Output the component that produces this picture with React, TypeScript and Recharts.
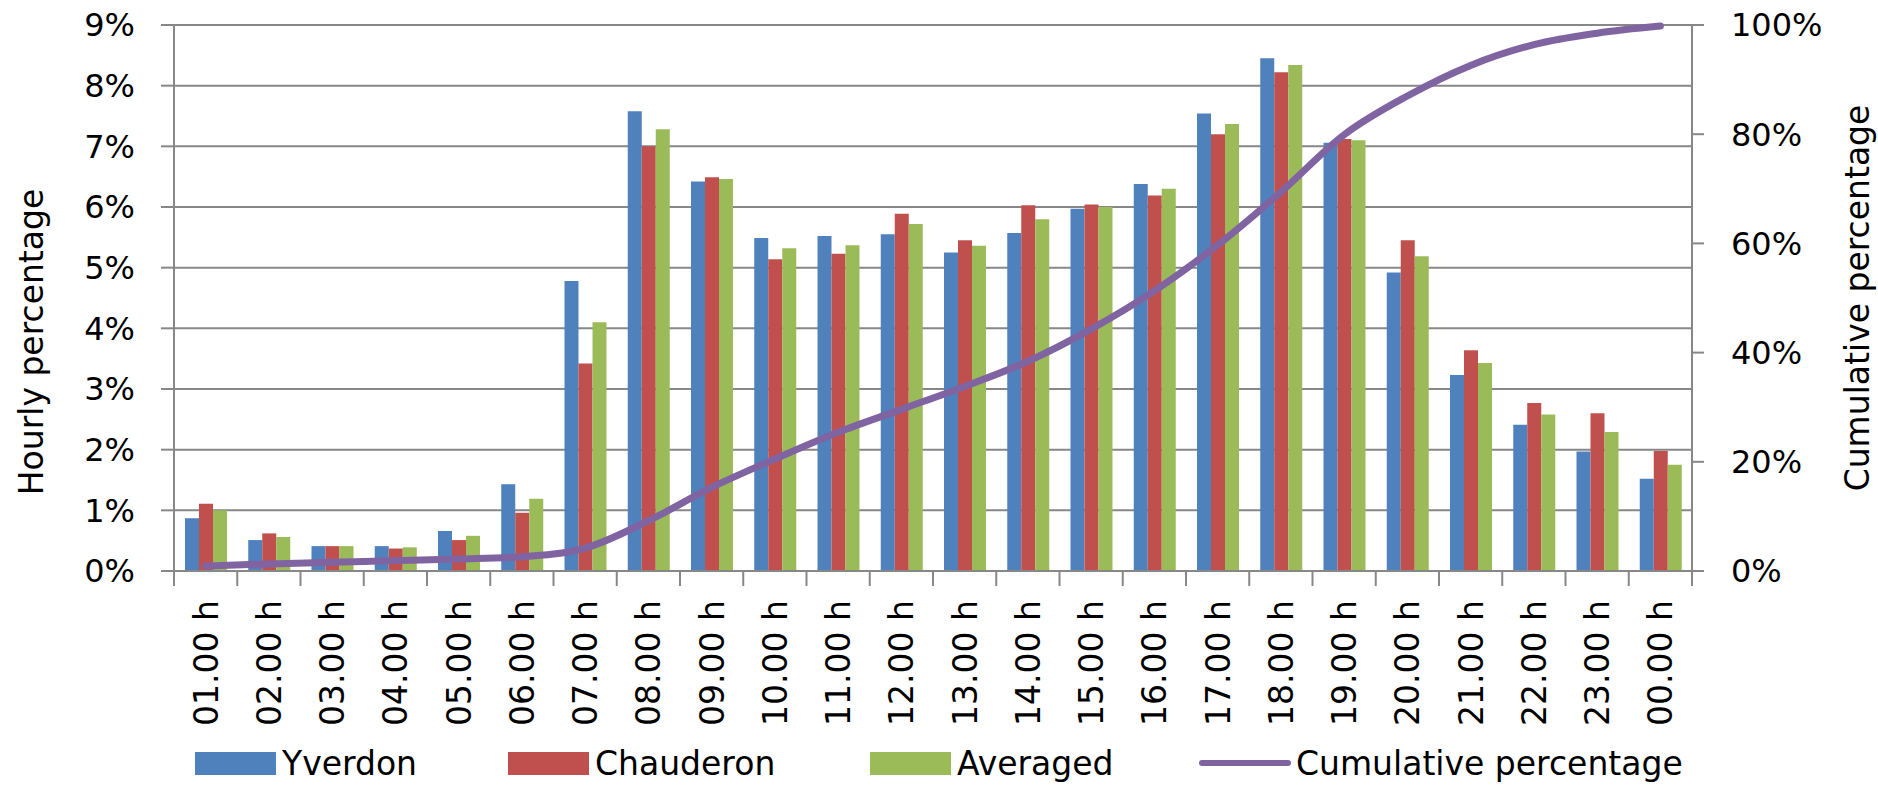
import {
  Bar,
  CartesianGrid,
  ComposedChart,
  Legend,
  Line,
  XAxis,
  YAxis,
} from 'recharts'

const hours = [
  '01.00 h', '02.00 h', '03.00 h', '04.00 h', '05.00 h', '06.00 h',
  '07.00 h', '08.00 h', '09.00 h', '10.00 h', '11.00 h', '12.00 h',
  '13.00 h', '14.00 h', '15.00 h', '16.00 h', '17.00 h', '18.00 h',
  '19.00 h', '20.00 h', '21.00 h', '22.00 h', '23.00 h', '00.00 h',
]

// hourly share of the daily traffic, in %
const yverdon = [
  0.87, 0.51, 0.41, 0.41, 0.66, 1.43, 4.78, 7.58, 6.42, 5.49, 5.52, 5.55,
  5.25, 5.57, 5.97, 6.38, 7.54, 8.45, 7.06, 4.92, 3.23, 2.41, 1.97, 1.52,
]
const chauderon = [
  1.11, 0.62, 0.41, 0.37, 0.51, 0.96, 3.42, 7.0, 6.49, 5.14, 5.23, 5.89,
  5.45, 6.03, 6.04, 6.19, 7.2, 8.22, 7.12, 5.45, 3.64, 2.77, 2.6, 1.98,
]
const averaged = [
  1.0, 0.56, 0.41, 0.39, 0.58, 1.19, 4.1, 7.28, 6.46, 5.32, 5.37, 5.72,
  5.36, 5.8, 6.0, 6.3, 7.37, 8.34, 7.1, 5.19, 3.43, 2.58, 2.29, 1.75,
]
// cumulative percentage curve, in %
const cumulative = [
  0.9, 1.3, 1.6, 1.9, 2.2, 2.6, 4.2, 9.2, 15.3, 20.5, 25.4, 29.6,
  33.8, 38.4, 44.3, 51.3, 59.7, 69.4, 79.9, 87.0, 92.6, 96.4, 98.5, 99.8,
]

const hourlyTicks = [0, 1, 2, 3, 4, 5, 6, 7, 8, 9]
const cumulativeTicks = [0, 20, 40, 60, 80, 100]

const data = hours.map((hour, i) => ({
  hour,
  yverdon: yverdon[i],
  chauderon: chauderon[i],
  averaged: averaged[i],
  cumulative: cumulative[i],
}))

const FONT = '"DejaVu Sans", sans-serif'
const GREY = '#878787'
const BLUE = '#4F81BD'
const RED = '#C0504D'
const GREEN = '#9BBB59'
const PURPLE = '#8064A2'

const WIDTH = 1878
const HEIGHT = 786
const LEFT_W = 174
const RIGHT_W = 186
const LEGEND_H = 46
const BAND = (WIDTH - LEFT_W - RIGHT_W) / hours.length

const pct = (v: number) => `${v}%`

// category label rotated upwards, with Excel-style tick marks between categories
function HourTick(props: any) {
  const { x, y, payload, index } = props
  const half = BAND / 2
  return (
    <g>
      <line x1={x - half} y1={y} x2={x - half} y2={y + 15} stroke={GREY} strokeWidth={2} />
      {index === hours.length - 1 && (
        <line x1={x + half} y1={y} x2={x + half} y2={y + 15} stroke={GREY} strokeWidth={2} />
      )}
      <text
        transform={`translate(${x},${y + 29}) rotate(-90)`}
        textAnchor="end"
        dy="0.36em"
        fill="#000"
        fontSize={33}
        fontFamily={FONT}
      >
        {payload.value}
      </text>
    </g>
  )
}

const legendItems = [
  { label: 'Yverdon', color: BLUE, left: 195, line: false },
  { label: 'Chauderon', color: RED, left: 508, line: false },
  { label: 'Averaged', color: GREEN, left: 870, line: false },
  { label: 'Cumulative percentage', color: PURPLE, left: 1199, line: true },
]

function ChartLegend() {
  return (
    <div style={{ position: 'relative', width: WIDTH, height: LEGEND_H, fontFamily: FONT, fontSize: 33, color: '#000' }}>
      {legendItems.map((item) => (
        <div
          key={item.label}
          style={{ position: 'absolute', left: item.left, top: 0, height: LEGEND_H, display: 'flex', alignItems: 'center' }}
        >
          {item.line ? (
            <span style={{ width: 92, height: 6, borderRadius: 3, background: item.color, marginRight: 5 }} />
          ) : (
            <span style={{ width: 81, height: 23, background: item.color, marginRight: 6 }} />
          )}
          <span>{item.label}</span>
        </div>
      ))}
    </div>
  )
}

function AxisTitle({ viewBox, text, dx, dy }: any) {
  const cx = viewBox.x + dx
  const cy = viewBox.y + viewBox.height / 2 + dy
  return (
    <text
      transform={`translate(${cx},${cy}) rotate(-90)`}
      textAnchor="middle"
      dy="0.36em"
      fill="#000"
      fontSize={33}
      fontFamily={FONT}
    >
      {text}
    </text>
  )
}

export default function App() {
  const tickStyle = { fill: '#000', fontSize: 32, fontFamily: FONT }
  return (
    <div style={{ position: 'absolute', left: 0, top: 0, background: '#fff', fontFamily: FONT }}>
      <ComposedChart
        width={WIDTH}
        height={HEIGHT}
        data={data}
        margin={{ top: 25, right: 0, bottom: 0, left: 0 }}
        barGap={0}
      >
        <CartesianGrid yAxisId="left" vertical={false} stroke={GREY} strokeWidth={2} />
        <XAxis
          dataKey="hour"
          interval={0}
          height={169}
          tickLine={false}
          tickSize={0}
          tickMargin={0}
          axisLine={{ stroke: GREY, strokeWidth: 2 }}
          tick={<HourTick />}
        />
        <YAxis
          yAxisId="left"
          width={LEFT_W}
          domain={[0, 9]}
          ticks={hourlyTicks}
          tickFormatter={pct}
          tickSize={13}
          tickMargin={26}
          tick={tickStyle}
          tickLine={{ stroke: GREY, strokeWidth: 2 }}
          axisLine={{ stroke: GREY, strokeWidth: 2 }}
          label={(p: any) => <AxisTitle {...p} text="Hourly percentage" dx={31} dy={44} />}
        />
        <YAxis
          yAxisId="right"
          orientation="right"
          width={RIGHT_W}
          domain={[0, 100]}
          ticks={cumulativeTicks}
          tickFormatter={pct}
          tickSize={12}
          tickMargin={27}
          tick={{ ...tickStyle, textAnchor: 'start' }}
          tickLine={{ stroke: GREY, strokeWidth: 2 }}
          axisLine={{ stroke: GREY, strokeWidth: 2 }}
          label={(p: any) => <AxisTitle {...p} text="Cumulative percentage" dx={165} dy={0} />}
        />
        <Bar yAxisId="left" dataKey="yverdon" name="Yverdon" fill={BLUE} barSize={14} isAnimationActive={false} />
        <Bar yAxisId="left" dataKey="chauderon" name="Chauderon" fill={RED} barSize={14} isAnimationActive={false} />
        <Bar yAxisId="left" dataKey="averaged" name="Averaged" fill={GREEN} barSize={14} isAnimationActive={false} />
        <Line
          yAxisId="right"
          type="monotone"
          dataKey="cumulative"
          name="Cumulative percentage"
          stroke={PURPLE}
          strokeWidth={7}
          strokeLinecap="round"
          dot={false}
          activeDot={false}
          isAnimationActive={false}
        />
        <Legend verticalAlign="bottom" height={LEGEND_H} content={<ChartLegend />} />
      </ComposedChart>
    </div>
  )
}
